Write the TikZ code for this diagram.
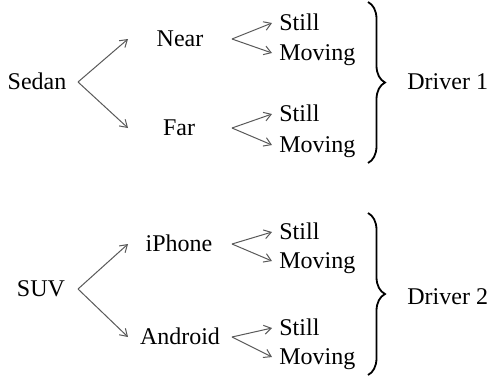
\documentclass[tikz,border=0pt]{standalone}
\usepackage{fontspec}
\setmainfont{Liberation Serif}
\usetikzlibrary{arrows.meta,decorations.pathreplacing}

\begin{document}
\begin{tikzpicture}[x=0.5pt, y=-0.5pt,
  lbl/.style={font=\fontsize{12}{14}\selectfont, inner xsep=3.5pt, inner ysep=0pt, text height=0.78em, text depth=0pt},
  fan/.style={-{Straight Barb[length=3.5pt,width=4.5pt]}, line width=0.5pt, draw=black!65},
  brc/.style={decorate, decoration={brace, amplitude=8.5pt}, line width=0.9pt}]
  \useasboundingbox (0,0) rectangle (487,381);

  % Define the columns of the fans
  \coordinate (vx1) at (78,0);
  \coordinate (tx1) at (128,0);
  \coordinate (vx2) at (232,0);

  % First level: vehicle and its two branches
  \node[lbl] (sedan) at (37,82) {Sedan};
  \node[lbl] (near) at (180,39) {Near};
  \node[lbl] (far) at (179,128) {Far};
  \node[lbl] (suv) at (41,289) {SUV};
  \node[lbl] (iphone) at (179,244) {iPhone};
  \node[lbl] (android) at (180,337) {Android};

  \foreach \top/\a/\b in {sedan/near/far, suv/iphone/android} {
    \draw[fan] (vx1 |- \top) -- (tx1 |- \a);
    \draw[fan] (vx1 |- \top) -- (tx1 |- \b);
  }

  % Second level: still or moving
  \foreach \row/\ys/\ym in {near/23/53, far/114/145, iphone/232/261, android/328/357} {
    \node[lbl, anchor=west] (\row s) at (272,\ys) {Still};
    \node[lbl, anchor=west] (\row m) at (272,\ym) {Moving};
    \draw[fan] (vx2 |- \row) -- (\row s.west);
    \draw[fan] (vx2 |- \row) -- (\row m.west);
  }

  % Braces and drivers
  \coordinate (b1top) at (368,2);
  \coordinate (b1bot) at (368,163);
  \coordinate (b2top) at (368,213);
  \coordinate (b2bot) at (368,375);
  \draw[brc] (b1top) -- (b1bot);
  \draw[brc] (b2top) -- (b2bot);
  \node[lbl, anchor=west, inner xsep=0pt] (driver1) at (407,82) {Driver 1};
  \node[lbl, anchor=west, inner xsep=0pt] (driver2) at (407,297) {Driver 2};
\end{tikzpicture}
\end{document}
